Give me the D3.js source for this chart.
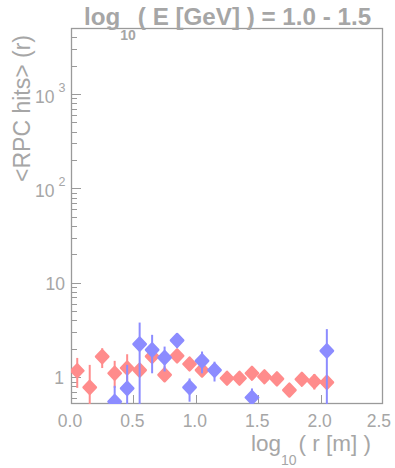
<!DOCTYPE html>
<html><head><meta charset="utf-8">
<script src="https://cdn.jsdelivr.net/npm/d3@7"></script>
<style>body{margin:0;background:#fff}text{font-family:"Liberation Sans",Arial,sans-serif}</style>
</head><body><svg id="c" width="395" height="468"></svg>
<script>
// red series
const redX   = [0.05,0.15,0.25,0.35,0.45,0.55,0.65,0.75,0.85,0.95,1.05,1.25,1.35,1.45,1.55,1.65,1.75,1.85,1.95,2.05];
const redY   = [1.17,0.78,1.65,1.10,1.25,1.19,1.66,1.06,1.68,1.38,1.19,0.975,0.975,1.10,1.01,0.96,0.73,0.95,0.90,0.88];
const redHi  = [1.60,1.35,2.03,1.49,1.75,1.25,1.80,1.30,1.78,1.45,1.25,1.02,1.02,1.15,1.05,1.00,0.76,1.00,1.08,0.92];
const redLo  = [0.77,0.40,1.25,0.77,0.86,1.13,1.52,0.90,1.58,1.31,1.13,0.93,0.93,1.05,0.97,0.92,0.70,0.90,0.74,0.84];
// blue series
const blueX  = [0.35,0.45,0.55,0.65,0.75,0.85,0.95,1.05,1.15,1.45,2.05];
const blueY  = [0.55,0.76,2.24,1.95,1.61,2.45,0.78,1.49,1.19,0.61,1.90];
const blueHi = [0.81,1.35,3.79,2.81,2.11,2.93,0.97,1.87,1.46,0.76,3.23];
const blueLo = [0.30,0.30,0.30,1.10,1.15,2.03,0.55,1.10,0.90,0.30,0.30];
const xTicks = [0.0,0.5,1.0,1.5,2.0,2.5];
const yTicks = [1,10,100,1000];

const svg = d3.select("#c");
const L=71,R=383,T=28,B=404;
const gray="#a6a6a6", frame="#9a9a9a";
const x = d3.scaleLinear().domain([0,2.5]).range([L,R]);
const y = d3.scaleLog().domain([0.52,5000]).range([B,T]);

svg.append("clipPath").attr("id","pc").append("rect").attr("x",L).attr("y",T).attr("width",R-L).attr("height",B-T);

// y ticks
const minor=[];
for(let d=0.1; d<=1000; d*=10) for(let k=1;k<=9;k++){const v=d*k; if(v>=0.52&&v<=5000) minor.push(v);}
svg.append("g").selectAll("line").data(minor).join("line")
  .attr("x1",L).attr("x2",v=>L+(yTicks.includes(v)?10:6))
  .attr("y1",v=>Math.round(y(v))+0.5).attr("y2",v=>Math.round(y(v))+0.5)
  .attr("stroke",frame).attr("stroke-width",1);
// x ticks
svg.append("g").selectAll("line").data(xTicks.slice(1,-1)).join("line")
  .attr("x1",v=>Math.round(x(v))+0.5).attr("x2",v=>Math.round(x(v))+0.5)
  .attr("y1",B).attr("y2",B-9).attr("stroke",frame);

// frame
svg.append("rect").attr("x",L+0.5).attr("y",T+0.5).attr("width",R-L-1).attr("height",B-T-1)
  .attr("fill","none").attr("stroke",frame).attr("stroke-width",1.3);

// x tick labels
svg.append("g").selectAll("text").data(xTicks).join("text")
  .attr("x",v=>v===2.5?391:x(v)-1).attr("y",427).attr("text-anchor",v=>v===2.5?"end":"middle")
  .attr("font-size",17.5).attr("fill",gray).text(v=>v.toFixed(1));
// y tick labels
const yl = svg.append("g");
yTicks.forEach(v=>{
  const py=y(v);
  if(v===1){ yl.append("text").attr("x",64).attr("y",py+7).attr("text-anchor","end").attr("font-size",17.5).attr("fill",gray).text("1"); }
  else if(v===10){ yl.append("text").attr("x",65).attr("y",py+7).attr("text-anchor","end").attr("font-size",17.5).attr("fill",gray).text("10"); }
  else {
    const t=yl.append("text").attr("x",35).attr("y",py+9).attr("font-size",17.5).attr("fill",gray);
    t.append("tspan").text("10");
    t.append("tspan").attr("dx",4).attr("dy",-11).attr("font-size",12.5).text(String(Math.round(Math.log10(v))));
  }
});

// titles
const tt = svg.append("text").attr("x",84).attr("y",25).attr("font-size",24.2).attr("font-weight","bold").attr("fill",gray);
tt.append("tspan").text("log");
tt.append("tspan").attr("dy",15).attr("font-size",14).text("10");
tt.append("tspan").attr("dy",-15).attr("dx",2).text("( E [GeV] ) = 1.0 - 1.5");

const xt = svg.append("text").attr("x",251).attr("y",451).attr("font-size",22.5).attr("fill",gray);
xt.append("tspan").text("log");
xt.append("tspan").attr("dy",14).attr("font-size",14).text("10");
xt.append("tspan").attr("dy",-14).attr("dx",2).text("( r [m] )");

svg.append("text").attr("transform","translate(30,35) rotate(-90)").attr("text-anchor","end")
  .attr("font-size",23).attr("fill",gray).text("<RPC hits> (r)");

// data
function series(xs,ys,hi,lo,col){
  const g=svg.append("g").attr("clip-path","url(#pc)");
  const d=xs.map((v,i)=>({x:v,y:ys[i],hi:hi[i],lo:lo[i]}));
  g.selectAll("line.v").data(d).join("line").attr("class","v")
    .attr("x1",p=>x(p.x)).attr("x2",p=>x(p.x)).attr("y1",p=>y(p.hi)).attr("y2",p=>y(Math.max(p.lo,0.4)))
    .attr("stroke",col).attr("stroke-width",2);
  g.selectAll("line.h").data(d).join("line").attr("class","h")
    .attr("x1",p=>x(p.x-0.05)).attr("x2",p=>x(p.x+0.05)).attr("y1",p=>y(p.y)).attr("y2",p=>y(p.y))
    .attr("stroke",col).attr("stroke-width",2);
  g.selectAll("path").data(d).join("path")
    .attr("d",p=>{const cx=x(p.x),cy=y(p.y);return `M${cx},${cy-6.5}L${cx+6.2},${cy}L${cx},${cy+6.5}L${cx-6.2},${cy}Z`;})
    .attr("fill",col).attr("stroke",col).attr("stroke-width",2.4).attr("stroke-linejoin","round");
}
series(redX,redY,redHi,redLo,"#ff8c8c");
series(blueX,blueY,blueHi,blueLo,"#8c8cff");
</script></body></html>
